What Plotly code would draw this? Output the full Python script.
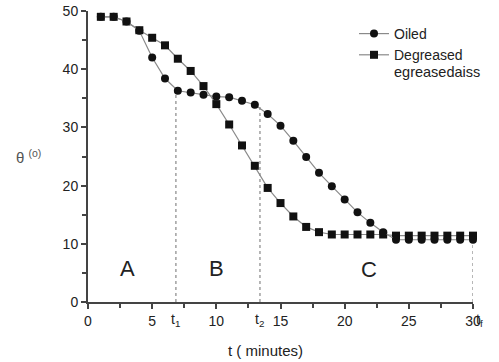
import plotly.graph_objects as go

t_min = list(range(1, 31))
oiled = [49.0, 49.0, 48.2, 46.6, 42.0, 38.4, 36.3, 36.0, 35.6, 35.3,
         35.2, 34.6, 33.9, 32.3, 30.3, 27.7, 24.9, 22.2, 19.9, 17.6,
         15.4, 13.6, 12.0, 10.7, 10.7, 10.7, 10.7, 10.7, 10.7, 10.7]
degreased = [49.0, 49.0, 48.2, 46.7, 45.4, 44.1, 41.8, 39.7, 37.1, 34.0,
             30.5, 26.9, 23.4, 19.6, 17.0, 14.7, 12.9, 12.0, 11.6, 11.6,
             11.6, 11.6, 11.6, 11.4, 11.4, 11.4, 11.4, 11.4, 11.4, 11.4]
x_ticks = [0, 5, 10, 15, 20, 25, 30]
y_ticks = [0, 10, 20, 30, 40, 50]
phase_t = [6.85, 13.4, 30.0]
phase_top = [36.3, 33.8, 11.0]
phase_labels = ["t<sub>1</sub>", "t<sub>2</sub>", "t<sub>f</sub>"]
region_names = ["A", "B", "C"]
region_x = [3.1, 10.0, 21.9]
region_y = [5.8, 5.8, 5.5]

FONT = "Liberation Sans, Arial, sans-serif"
L, R, T, B = 88, 26, 11, 60
W, H = 499, 362
pw, ph = W - L - R, H - T - B

def px(xp):
    return (xp - L) / pw

def py(yp):
    return (H - B - yp) / ph

fig = go.Figure()
for xv, top in zip(phase_t, phase_top):
    fig.add_trace(go.Scatter(x=[xv, xv], y=[0, top], mode="lines",
                             line=dict(color="#888888", width=1.2, dash="dot"),
                             showlegend=False, hoverinfo="skip"))
fig.add_trace(go.Scatter(x=t_min, y=degreased, mode="lines+markers", name="Degreased",
                         line=dict(color="#8a8a8a", width=1.2),
                         marker=dict(symbol="square", size=8, color="#111111"),
                         cliponaxis=False))
fig.add_trace(go.Scatter(x=t_min, y=oiled, mode="lines+markers", name="Oiled",
                         line=dict(color="#8a8a8a", width=1.2),
                         marker=dict(symbol="circle", size=8, color="#111111"),
                         cliponaxis=False))

ann = []
for xv, lab in zip(phase_t, phase_labels):
    if lab.endswith("f</sub>"):
        ann.append(dict(x=px(L + pw * xv / 30 + 7), y=0, xref="paper", yref="paper",
                        text=lab, showarrow=False, xanchor="center", yanchor="top", yshift=-7,
                        font=dict(family=FONT, size=14, color="#222222")))
    else:
        ann.append(dict(x=xv, y=0, xref="x", yref="paper",
                        text=lab, showarrow=False, xanchor="center", yanchor="top", yshift=-7,
                        font=dict(family=FONT, size=14, color="#222222")))
for nm, xv, yv in zip(region_names, region_x, region_y):
    ann.append(dict(x=xv, y=yv, xref="x", yref="y", text=nm, showarrow=False,
                    xanchor="center", yanchor="middle",
                    font=dict(family=FONT, size=22, color="#222222")))
ann.append(dict(x=px(265), y=py(350), xref="paper", yref="paper", text="t ( minutes)",
                showarrow=False, xanchor="center", yanchor="middle",
                font=dict(family=FONT, size=15, color="#222222")))
ann.append(dict(x=px(28), y=py(156), xref="paper", yref="paper", text="θ <sup>(o)</sup>",
                showarrow=False, xanchor="center", yanchor="middle",
                font=dict(family=FONT, size=15, color="#555555")))
ann.append(dict(x=px(392), y=py(72), xref="paper", yref="paper", text="egreasedaiss",
                xanchor="left", yanchor="middle", showarrow=False,
                font=dict(family=FONT, size=14.5, color="#222222")))

fig.update_layout(
    width=W, height=H,
    margin=dict(l=L, r=R, t=T, b=B, autoexpand=False),
    paper_bgcolor="white", plot_bgcolor="white",
    font=dict(family=FONT, size=14, color="#222222"),
    showlegend=True,
    legend=dict(x=px(354), y=py(18), xanchor="left", yanchor="top",
                traceorder="reversed", bgcolor="rgba(0,0,0,0)",
                font=dict(family=FONT, size=14, color="#222222"),
                itemwidth=30, tracegroupgap=0),
    annotations=ann,
    xaxis=dict(range=[0, 30], tickvals=x_ticks, showgrid=False, zeroline=False,
               automargin=False,
               showline=True, linecolor="#444444", linewidth=2,
               ticks="outside", ticklen=5, tickwidth=2, tickcolor="#444444",
               minor=dict(dtick=2.5, ticks="outside", ticklen=4, tickwidth=1.5, tickcolor="#444444"),
               tickfont=dict(family=FONT, size=14, color="#222222")),
    yaxis=dict(range=[0, 50], tickvals=y_ticks, showgrid=False, zeroline=False,
               automargin=False,
               showline=True, linecolor="#444444", linewidth=2,
               ticks="outside", ticklen=5, tickwidth=2, tickcolor="#444444",
               minor=dict(dtick=5, ticks="outside", ticklen=4, tickwidth=1.5, tickcolor="#444444"),
               ticklabeloverflow="allow",
               tickfont=dict(family=FONT, size=14, color="#222222")),
)
fig.write_html("out.html", config={"displayModeBar": False},
               post_script="document.body.style.margin='0';")
